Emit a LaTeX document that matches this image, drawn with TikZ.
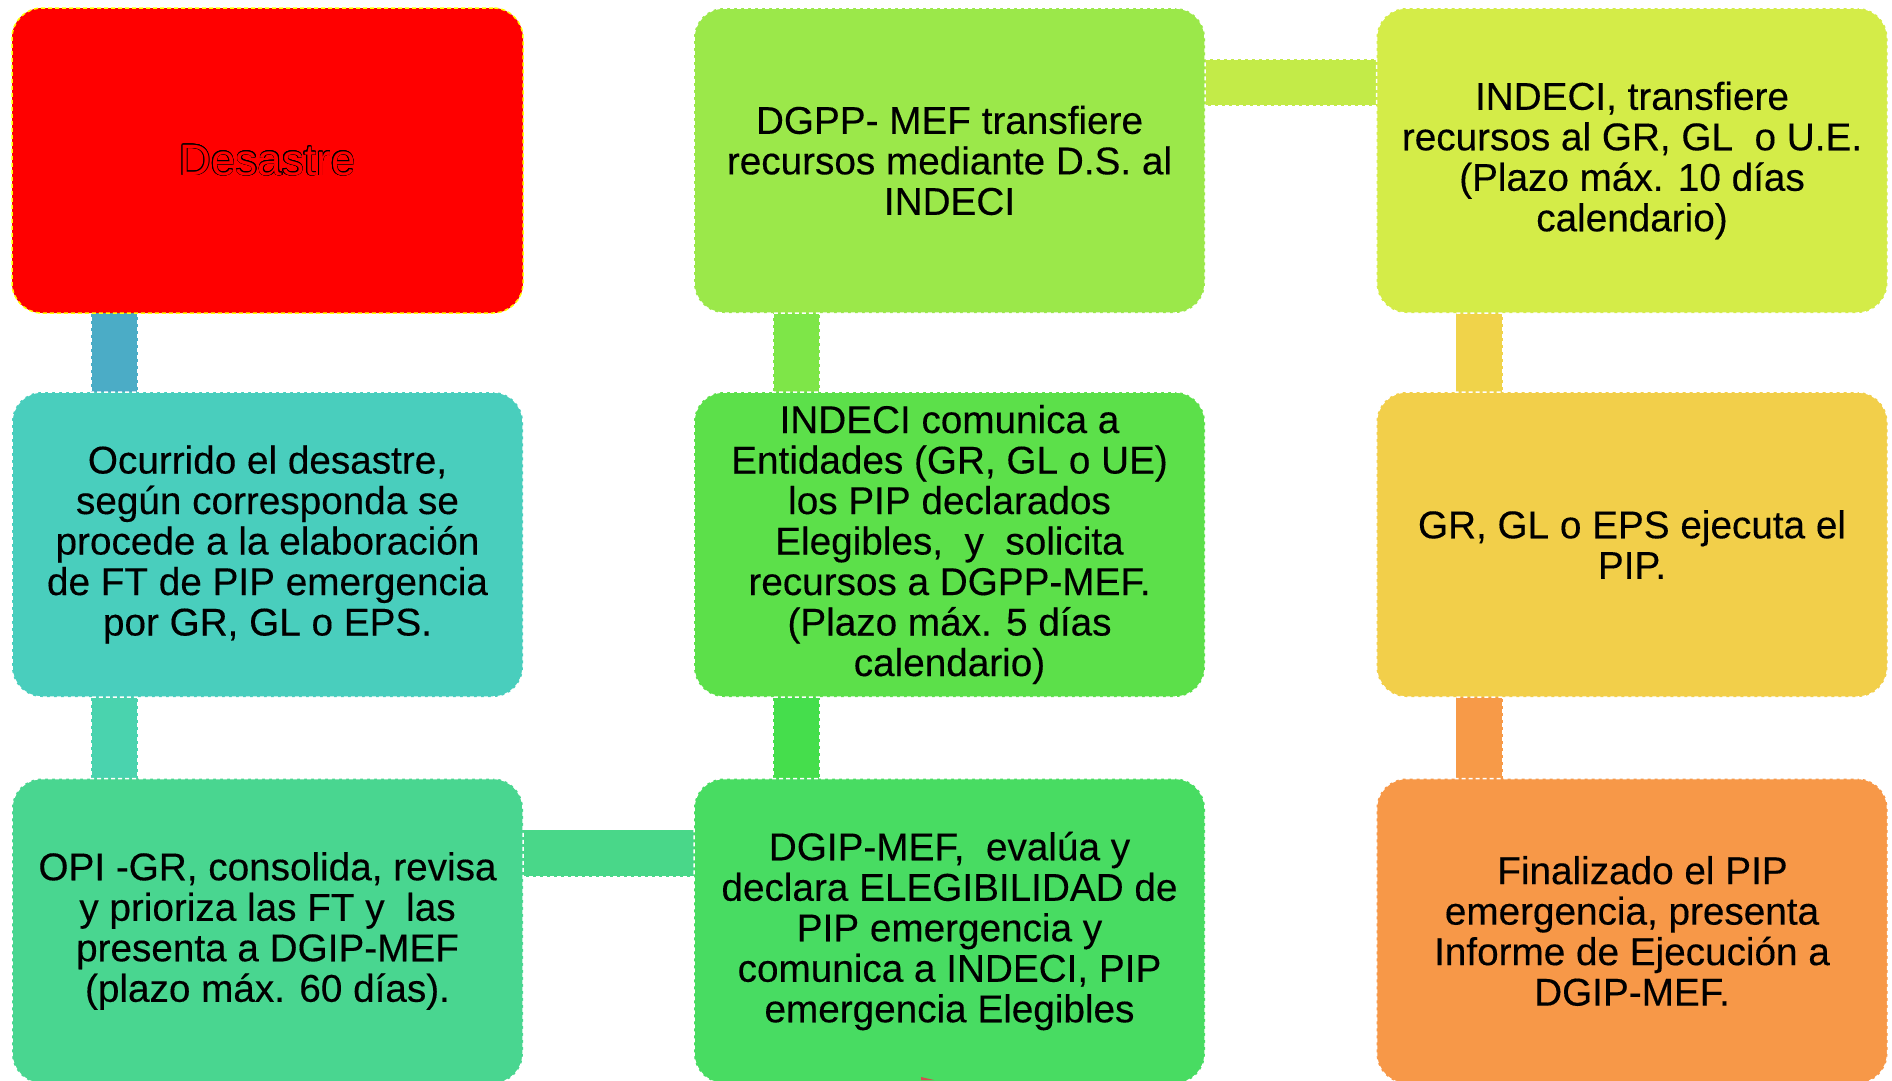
\documentclass[tikz,border=0pt]{standalone}
\usepackage{fontspec}
\setmainfont[FakeBold=0.3]{Liberation Sans}
\newfontfamily\plainsans{Liberation Sans}
\usepackage{contour}
\contourlength{0.55pt}
\usetikzlibrary{calc,backgrounds}
\definecolor{cRed}{HTML}{FF0000}
\definecolor{cYel}{HTML}{FFFF00}
\definecolor{cB2}{HTML}{49CEBD}
\definecolor{cB3}{HTML}{49D690}
\definecolor{cB4}{HTML}{48DC62}
\definecolor{cB5}{HTML}{5CE04A}
\definecolor{cB6}{HTML}{9BE84A}
\definecolor{cB7}{HTML}{D4EC48}
\definecolor{cB8}{HTML}{F2CF4A}
\definecolor{cB9}{HTML}{F79848}
\definecolor{cC12}{HTML}{4BACC6}
\definecolor{cC23}{HTML}{4AD3AE}
\definecolor{cC34}{HTML}{49D789}
\definecolor{cC45}{HTML}{45DE4C}
\definecolor{cC56}{HTML}{7EE648}
\definecolor{cC67}{HTML}{C3EB48}
\definecolor{cC78}{HTML}{F0D34A}
\definecolor{cC89}{HTML}{F79A48}
\definecolor{cMark}{HTML}{D05050}
\begin{document}
\begin{tikzpicture}[x=1pt,y=-1pt,
  box/.style={rounded corners=30pt, minimum width=511pt, minimum height=305pt,
    inner sep=0pt, outer sep=0pt, draw=white, line width=1.5pt,
    dash pattern=on 4pt off 3pt, align=center,
    font=\fontsize{38.7}{40.5}\selectfont, text=black},
  bar/.style={draw=white, line width=1.5pt, dash pattern=on 4pt off 3pt}]
\useasboundingbox (0,0) rectangle (1892,1080);

\node[box, fill=cRed, draw=cYel] (n1) at (267.5,160.5)
  {\plainsans\fontsize{44}{50}\selectfont\contour{black}{\textcolor{cRed}{Desastre}}};
\node[box, fill=cB2] (n2) at (267.5,544.5)
  {Ocurrido el desastre,\\ según corresponda se\\ procede a la elaboración\\ de FT de PIP emergencia\\ por GR, GL o EPS.};
\node[box, fill=cB3] (n3) at (267.5,931)
  {OPI -GR, consolida, revisa\\ y prioriza las FT y\ \ las\\ presenta a DGIP-MEF\\ (plazo máx. 60 días).};
\node[box, fill=cB4] (n4) at (949.5,931)
  {DGIP-MEF,\ \ evalúa y\\ declara ELEGIBILIDAD de\\ PIP emergencia y\\ comunica a INDECI, PIP\\ emergencia Elegibles};
\node[box, fill=cB5] (n5) at (949.5,544.5)
  {INDECI comunica a\\ Entidades (GR, GL o UE)\\ los PIP declarados\\ Elegibles,\ \ y\ \ solicita\\ recursos a DGPP-MEF.\\ (Plazo máx. 5 días\\ calendario)};
\node[box, fill=cB6] (n6) at (949.5,160.5)
  {DGPP- MEF transfiere\\ recursos mediante D.S. al\\ INDECI};
\node[box, fill=cB7] (n7) at (1632,160.5)
  {INDECI, transfiere\\ recursos al GR, GL\ \ o U.E.\\ (Plazo máx. 10 días\\ calendario)};
\node[box, fill=cB8] (n8) at (1632,544.5)
  {GR, GL o EPS ejecuta el\\ PIP.};
\node[box, fill=cB9] (n9) at (1632,931)
  {\hspace*{21pt}Finalizado el PIP\\ emergencia, presenta\\ Informe de Ejecución a\\ DGIP-MEF.};

\begin{scope}[on background layer]
\path[bar, fill=cC12] ($(n1.south west)+(79,-3)$) rectangle ($(n2.north west)+(126,3)$);
\path[bar, fill=cC23] ($(n2.south west)+(79,-3)$) rectangle ($(n3.north west)+(126,3)$);
\path[bar, fill=cC34] ($(n3.north east)+(-3,51)$) rectangle ($(n4.north west)+(3,98)$);
\path[bar, fill=cC45] ($(n4.north west)+(79,3)$) rectangle ($(n5.south west)+(126,-3)$);
\path[bar, fill=cC56] ($(n5.north west)+(79,3)$) rectangle ($(n6.south west)+(126,-3)$);
\path[bar, fill=cC67] ($(n6.north east)+(-3,51)$) rectangle ($(n7.north west)+(3,98)$);
\path[bar, fill=cC78] ($(n7.south west)+(79,-3)$) rectangle ($(n8.north west)+(126,3)$);
\path[bar, fill=cC89] ($(n8.south west)+(79,-3)$) rectangle ($(n9.north west)+(126,3)$);
\end{scope}

\fill[cMark] (921,1077) -- (934,1080) -- (921,1080) -- cycle;
\end{tikzpicture}
\end{document}
